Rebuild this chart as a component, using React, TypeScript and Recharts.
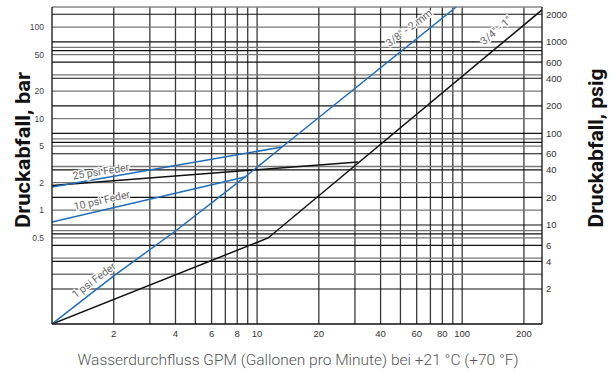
import { LineChart, Line, XAxis, YAxis, ReferenceLine, ReferenceDot } from 'recharts';

// pressure drop vs. water flow, log-log
const PSI_PER_BAR = 14.5;
const gpmDomain: [number, number] = [1, 245];
const psigDomain: [number, number] = [0.83, 2400];
const barDomain: [number, number] = [psigDomain[0] / PSI_PER_BAR, psigDomain[1] / PSI_PER_BAR];

const gpmTicks = [2, 4, 6, 8, 10, 20, 40, 60, 80, 100, 200];
const gpmGrid = [2, 3, 4, 5, 6, 7, 8, 9, 10, 20, 30, 40, 50, 60, 70, 80, 90, 100, 200];
const psigTicks = [2, 4, 6, 8, 10, 20, 40, 60, 80, 100, 200, 400, 600, 800, 1000, 2000];
const barTicks = [0.5, 1, 2, 5, 10, 20, 50, 100];
const barGrid = [0.2, 0.3, 0.5, 0.6, 1, 2, 3, 5, 6, 10, 20, 30, 50, 60, 100];

// 3/8" - 2 mm, 1 psi spring
const flow38 = [1, 2, 4, 8.74, 13.24, 93.5];
const drop38 = [0.83, 2.78, 8.6, 33.5, 71.1, 2400];
// 3/8" - 2 mm, 10 psi spring
const flow38s10 = [1, 8.74];
const drop38s10 = [10.8, 33.5];
// 3/8" - 2 mm, 25 psi spring
const flow38s25 = [1, 13.24];
const drop38s25 = [26.0, 71.1];
// 3/4" - 1"
const flow34 = [1, 11.32, 245];
const drop34 = [0.83, 7.22, 2229];
// 3/4" - 1", 25 psi spring
const flow34s25 = [1, 31.1];
const drop34s25 = [27.0, 48.8];

const noteText = ['25 psi Feder', '10 psi Feder', '1 psi Feder', '3/8" - 2 mm', '3/4" - 1"'];
const noteGpm = [1.73, 1.75, 1.6, 55, 146];
const notePsig = [38.5, 18.6, 2.5, 1420, 1330];
const noteAngle = [-9, -13, -37, -37, -40];

const zip = (x: number[], y: number[]) => x.map((gpm, i) => ({ gpm, psig: y[i] }));

const series = [
  { key: '34', data: zip(flow34, drop34), color: '#111' },
  { key: '34s25', data: zip(flow34s25, drop34s25), color: '#111' },
  { key: '38s10', data: zip(flow38s10, drop38s10), color: '#1f6dbb' },
  { key: '38s25', data: zip(flow38s25, drop38s25), color: '#1f6dbb' },
  { key: '38', data: zip(flow38, drop38), color: '#1f6dbb' },
];

const tickFont = 'Liberation Sans, Arial, sans-serif';

function AxisTitle({ x, y, text, len }: { x: number; y: number; text: string; len: number }) {
  return (
    <text
      x={x}
      y={y}
      transform={`rotate(-90, ${x}, ${y})`}
      textAnchor="middle"
      textLength={len}
      lengthAdjust="spacingAndGlyphs"
      style={{ fontFamily: 'Roboto, sans-serif', fontWeight: 700, fontSize: 21, fill: '#111' }}
    >
      {text}
    </text>
  );
}

export default function App() {
  return (
    <div style={{ position: 'absolute', left: 0, top: 0, width: 616, height: 374, background: '#fff' }}>
      <LineChart width={616} height={374} margin={{ top: 7, right: 8, bottom: 20, left: 8 }}>
        <XAxis
          dataKey="gpm"
          type="number"
          scale="log"
          domain={gpmDomain}
          allowDataOverflow
          ticks={gpmTicks}
          tickLine={false}
          tickSize={4}
          height={30}
          axisLine={{ stroke: '#111', strokeWidth: 1.3 }}
          tick={{ fill: '#333', fontSize: 9.5, fontFamily: tickFont }}
        />
        <YAxis
          yAxisId="bar"
          type="number"
          scale="log"
          domain={barDomain}
          allowDataOverflow
          ticks={barTicks}
          tickLine={false}
          width={44}
          axisLine={{ stroke: '#111', strokeWidth: 1.3 }}
          tick={{ fill: '#444', fontSize: 8.5, fontFamily: tickFont }}
        />
        <YAxis
          yAxisId="psig"
          orientation="right"
          type="number"
          scale="log"
          domain={psigDomain}
          allowDataOverflow
          ticks={psigTicks}
          tickLine={false}
          tickSize={2}
          tickMargin={2}
          width={66}
          axisLine={{ stroke: '#111', strokeWidth: 1.3 }}
          tick={{ fill: '#333', fontSize: 9.5, fontFamily: tickFont, textAnchor: 'start' }}
        />

        {gpmGrid.map((v) => (
          <ReferenceLine key={`x${v}`} x={v} yAxisId="psig" stroke="#3a3a3a" strokeWidth={1.3} />
        ))}
        {barGrid.map((v) => (
          <ReferenceLine key={`b${v}`} y={v} yAxisId="bar" stroke="#777" strokeWidth={1.3} />
        ))}
        {psigTicks.map((v) => (
          <ReferenceLine key={`p${v}`} y={v} yAxisId="psig" stroke="#111" strokeWidth={1.2} />
        ))}
        <ReferenceLine y={psigDomain[1]} yAxisId="psig" stroke="#888" strokeWidth={1.3} />

        {series.map((s) => (
          <Line
            key={s.key}
            yAxisId="psig"
            data={s.data}
            dataKey="psig"
            type="linear"
            stroke={s.color}
            strokeWidth={1.5}
            dot={false}
            activeDot={false}
            isAnimationActive={false}
          />
        ))}

        {noteText.map((t, i) => (
          <ReferenceDot
            key={t}
            yAxisId="psig"
            x={noteGpm[i]}
            y={notePsig[i]}
            r={0}
            shape={(p: any) => (
              <text
                x={p.cx}
                y={p.cy}
                dy="0.35em"
                transform={`rotate(${noteAngle[i]}, ${p.cx}, ${p.cy})`}
                textAnchor="middle"
                stroke="#fff"
                strokeWidth={2.5}
                paintOrder="stroke"
                style={{ fontFamily: 'Roboto, sans-serif', fontSize: 10.5, fill: '#666' }}
              >
                {t}
              </text>
            )}
          />
        ))}

        <AxisTitle x={30} y={150} text="Druckabfall, bar" len={156} />
        <AxisTitle x={603} y={148} text="Druckabfall, psig" len={159} />
        <text
          x={298}
          y={365}
          textAnchor="middle"
          style={{ fontFamily: 'Roboto, sans-serif', fontWeight: 300, fontSize: 15.5, fill: '#555' }}
        >
          Wasserdurchfluss GPM (Gallonen pro Minute) bei +21 °C (+70 °F)
        </text>
      </LineChart>
    </div>
  );
}
